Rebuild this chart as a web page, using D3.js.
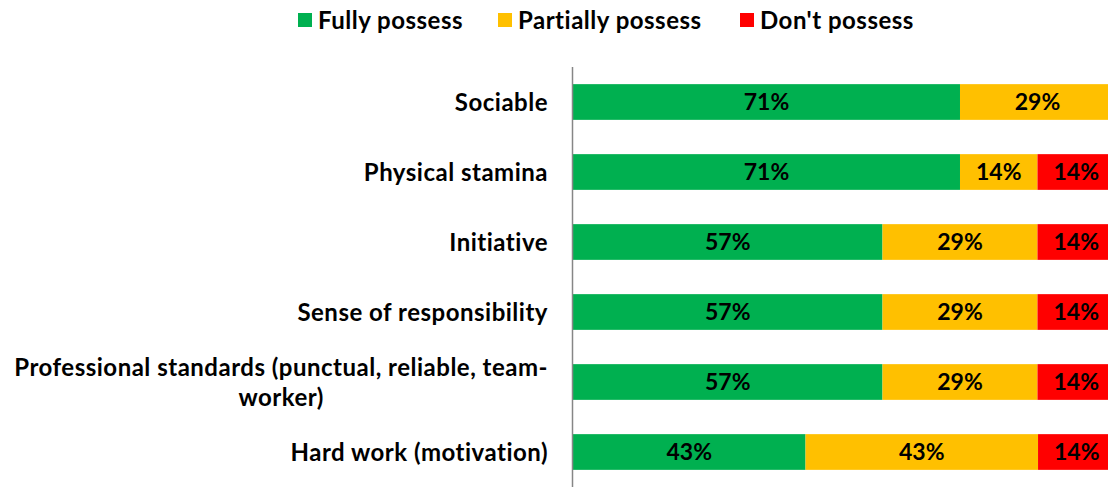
<!DOCTYPE html>
<html>
<head>
<meta charset="utf-8">
<script src="https://cdn.jsdelivr.net/npm/d3@7"></script>
<style>
  body { margin: 0; background: #fff; overflow: hidden; }
  text { font-family: Lato, "Open Sans", sans-serif; font-weight: bold; fill: #000; font-variant-ligatures: none; }
  .lbl { letter-spacing: 0.5px; }
</style>
</head>
<body>
<div id="vis"></div>
<script>
//chart data
const CATEGORIES = ["Sociable", "Physical stamina", "Initiative", "Sense of responsibility",
  "Professional standards (punctual, reliable, team-|worker)", "Hard work (motivation)"];
const SERIES = ["Fully possess", "Partially possess", "Don't possess"];
const FULLY = [71.4, 71.4, 57.1, 57.1, 57.1, 42.9];
const PARTIALLY = [28.6, 14.3, 28.6, 28.6, 28.6, 42.9];
const DONT = [0, 14.3, 14.3, 14.3, 14.3, 14.3];
const COLORS = ["#00B050", "#FFC000", "#FF0000"];

const FRAME_WIDTH = 1108;
const FRAME_HEIGHT = 489;
const MARGINS = {left: 573, right: -7, top: 67, bottom: 2};
const LABEL_SIZE = 24;
const VALUE_SIZE = 23;

const FRAME = d3.select("#vis")
  .append("svg")
  .attr("width", FRAME_WIDTH)
  .attr("height", FRAME_HEIGHT);

//scales
const X_SCALE = d3.scaleLinear()
  .domain([0, 100])
  .range([MARGINS.left, FRAME_WIDTH - MARGINS.right]);

const Y_SCALE = d3.scaleBand()
  .domain(CATEGORIES)
  .range([MARGINS.top, FRAME_HEIGHT - MARGINS.bottom])
  .paddingInner(0.49)
  .paddingOuter(0.245);

//stack the rows
const rows = CATEGORIES.map((c, i) => ({cat: c, s0: FULLY[i], s1: PARTIALLY[i], s2: DONT[i]}));
const stacked = d3.stack().keys(["s0", "s1", "s2"])(rows);

stacked.forEach((layer, li) => {
  const g = FRAME.append("g");
  g.selectAll("rect")
    .data(layer.filter(d => d[1] - d[0] > 0))
    .enter().append("rect")
    .attr("x", d => X_SCALE(d[0]))
    .attr("width", d => X_SCALE(d[1]) - X_SCALE(d[0]))
    .attr("y", d => Y_SCALE(d.data.cat))
    .attr("height", Y_SCALE.bandwidth())
    .attr("fill", COLORS[li]);

  g.selectAll("text")
    .data(layer.filter(d => d[1] - d[0] > 0))
    .enter().append("text")
    .attr("x", d => (X_SCALE(d[0]) + X_SCALE(d[1])) / 2)
    .attr("y", d => Y_SCALE(d.data.cat) + Y_SCALE.bandwidth() / 2)
    .attr("dy", "0.36em")
    .attr("text-anchor", "middle")
    .attr("font-size", VALUE_SIZE)
    .text(d => Math.round(d[1] - d[0]) + "%");
});

//y axis line
FRAME.append("line")
  .attr("x1", X_SCALE(0) - 0.5).attr("x2", X_SCALE(0) - 0.5)
  .attr("y1", MARGINS.top).attr("y2", FRAME_HEIGHT - MARGINS.bottom)
  .attr("stroke", "#868686")
  .attr("stroke-width", 1.5);

//category labels, wrapped lines centred under the first line
const LABEL_X = X_SCALE(0) - 25;
CATEGORIES.forEach(c => {
  const lines = c.split("|");
  const cy = Y_SCALE(c) + Y_SCALE.bandwidth() / 2;
  const lh = 30;
  const t0 = FRAME.append("text")
    .attr("class", "lbl")
    .attr("x", LABEL_X)
    .attr("y", cy - (lines.length - 1) * lh / 2)
    .attr("dy", "0.36em")
    .attr("text-anchor", "end")
    .attr("font-size", LABEL_SIZE)
    .text(lines[0]);
  if (lines.length > 1) {
    const b0 = t0.node().getBBox();
    const t1 = FRAME.append("text")
      .attr("class", "lbl")
      .attr("x", 0)
      .attr("y", cy + lh / 2)
      .attr("dy", "0.36em")
      .attr("font-size", LABEL_SIZE)
      .text(lines[1]);
    const b1 = t1.node().getBBox();
    t1.attr("x", b0.x + b0.width / 2 - b1.width / 2);
  }
});

//legend
const LEGEND_X = [298, 498, 740];
SERIES.forEach((s, i) => {
  FRAME.append("rect")
    .attr("x", LEGEND_X[i]).attr("y", 13)
    .attr("width", 14).attr("height", 14)
    .attr("fill", COLORS[i]);
  FRAME.append("text")
    .attr("class", "lbl")
    .attr("x", LEGEND_X[i] + 20).attr("y", 20)
    .attr("dy", "0.36em")
    .attr("font-size", LABEL_SIZE)
    .text(s);
});
</script>
</body>
</html>
